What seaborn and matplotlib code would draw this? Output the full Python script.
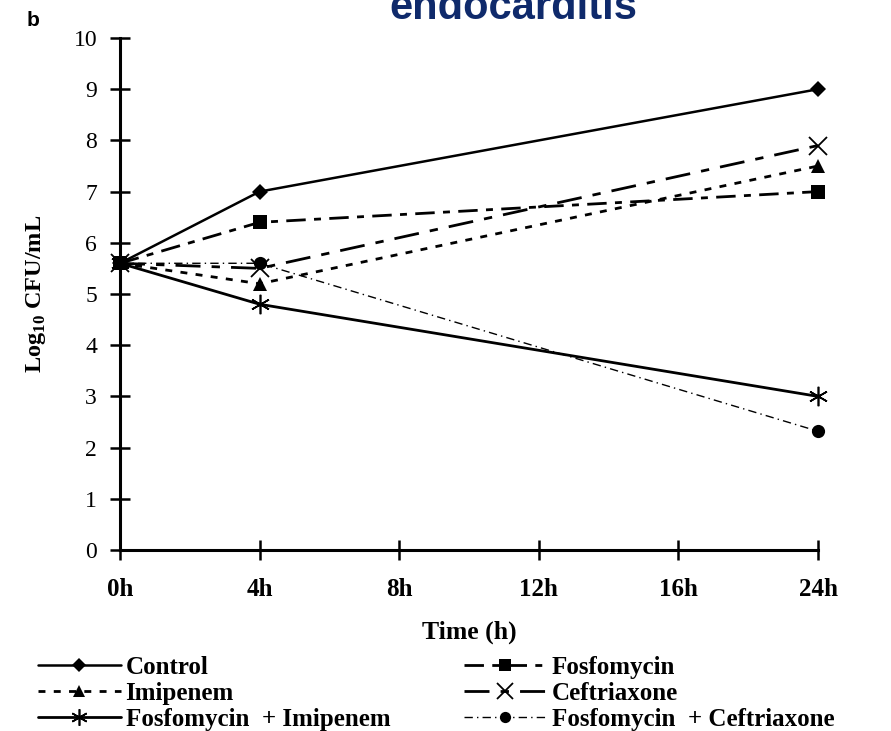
import matplotlib
matplotlib.use("Agg")
import matplotlib.pyplot as plt
import seaborn as sns
import pandas as pd

# ---- data ----
time_labels = ["0h", "4h", "8h", "12h", "16h", "24h"]
sample_times = ["0h", "4h", "24h"]
series_names = ["Control", "Fosfomycin", "Imipenem", "Ceftriaxone",
                "Fosfomycin  + Imipenem", "Fosfomycin  + Ceftriaxone"]
control = [5.6, 7.0, 9.0]
fosfomycin = [5.6, 6.4, 7.0]
imipenem = [5.6, 5.2, 7.5]
ceftriaxone = [5.6, 5.5, 7.9]
fosfo_imipenem = [5.6, 4.8, 3.0]
fosfo_ceftriaxone = [5.6, 5.6, 2.32]
y_ticks = list(range(0, 11))

values = [control, fosfomycin, imipenem, ceftriaxone, fosfo_imipenem, fosfo_ceftriaxone]

rows = []
for name, vals in zip(series_names, values):
    for t, v in zip(sample_times, vals):
        rows.append({"series": name, "x": time_labels.index(t), "y": v})
df = pd.DataFrame(rows)

sns.set_style("white")
plt.rcParams["font.family"] = ["Liberation Serif", "DejaVu Serif"]
plt.rcParams.update({"text.color": "black", "axes.labelcolor": "black",
                     "xtick.color": "black", "ytick.color": "black"})

fig = plt.figure(figsize=(8.91, 7.31), dpi=100)
ax = fig.add_axes([120 / 891, 1 - 550 / 731, (818 - 120) / 891, (550 - 38) / 731])

styles = {
    "Control": dict(ls="-", marker="D", ms=8, lw=1.8, mew=0),
    "Fosfomycin": dict(ls=(0, (7, 3, 2.5, 3)), marker="s", ms=9.5, lw=2.0, mew=0),
    "Imipenem": dict(ls=(0, (2.5, 3)), marker="^", ms=10.5, lw=2.0, mew=0),
    "Ceftriaxone": dict(ls=(0, (9, 4, 3, 4)), marker="x", ms=13, lw=2.0, mew=1.3),
    "Fosfomycin  + Imipenem": dict(ls="-", marker=(6, 2, 0), ms=14, lw=2.0, mew=1.2),
    "Fosfomycin  + Ceftriaxone": dict(ls=(0, (6, 3, 1, 3)), marker="o", ms=9.5, lw=1.0, mew=0),
}

handles = {}
for name in series_names:
    st = styles[name]
    sub = df[df["series"] == name]
    sns.lineplot(data=sub, x="x", y="y", ax=ax, color="black",
                 linestyle=st["ls"], linewidth=st["lw"], marker=st["marker"],
                 markersize=st["ms"], markeredgewidth=st["mew"],
                 markeredgecolor="black", markerfacecolor="black",
                 clip_on=False, label=name, legend=False, zorder=3)
    handles[name] = ax.lines[-1]

ax.set_xlim(0, len(time_labels) - 1)
ax.set_ylim(0, 10)
ax.set_xticks(range(len(time_labels)))
ax.set_xticklabels(time_labels, fontweight="bold", fontsize=18, color="black")
ax.set_yticks(y_ticks)
ax.set_yticklabels([str(v) for v in y_ticks], fontsize=17, color="black")
ax.tick_params(axis="both", direction="inout", length=15, width=1.8, color="black",
               bottom=True, left=True)
ax.tick_params(axis="x", pad=13)
ax.tick_params(axis="y", pad=9)
for s in ["top", "right"]:
    ax.spines[s].set_visible(False)
for s in ["left", "bottom"]:
    ax.spines[s].set_color("black")
    ax.spines[s].set_linewidth(2.2)

ax.set_xlabel("Time (h)", fontweight="bold", fontsize=18.5, labelpad=14, color="black")
ax.set_ylabel(r"Log$_{\mathregular{10}}$ CFU/mL", fontweight="bold", fontsize=17.5,
              labelpad=18, color="black")

col1 = ["Control", "Imipenem", "Fosfomycin  + Imipenem"]
col2 = ["Fosfomycin", "Ceftriaxone", "Fosfomycin  + Ceftriaxone"]
leg_kw = dict(loc="upper left", frameon=False,
              prop={"family": "Liberation Serif", "weight": "bold", "size": 18},
              handlelength=3.3, handletextpad=0.2, labelspacing=0.12,
              borderpad=0.0, borderaxespad=0.0, markerscale=0.85,
              labelcolor="black")
fig.legend([handles[n] for n in col1], col1,
           bbox_to_anchor=(38 / 891, 1 - 656 / 731), **leg_kw)
fig.legend([handles[n] for n in col2], col2,
           bbox_to_anchor=(464 / 891, 1 - 656 / 731), **leg_kw)

fig.text(33 / 891, 1 - 20 / 731, "b", fontsize=15, fontweight="bold",
         family="Liberation Sans", ha="center", va="center", color="black")
fig.text(513 / 891, 1 - 19 / 731, "endocarditis", fontsize=30, fontweight="bold",
         family="Liberation Sans", color="#0f2a6b", ha="center", va="baseline")

fig.savefig("out.png", dpi=100)
